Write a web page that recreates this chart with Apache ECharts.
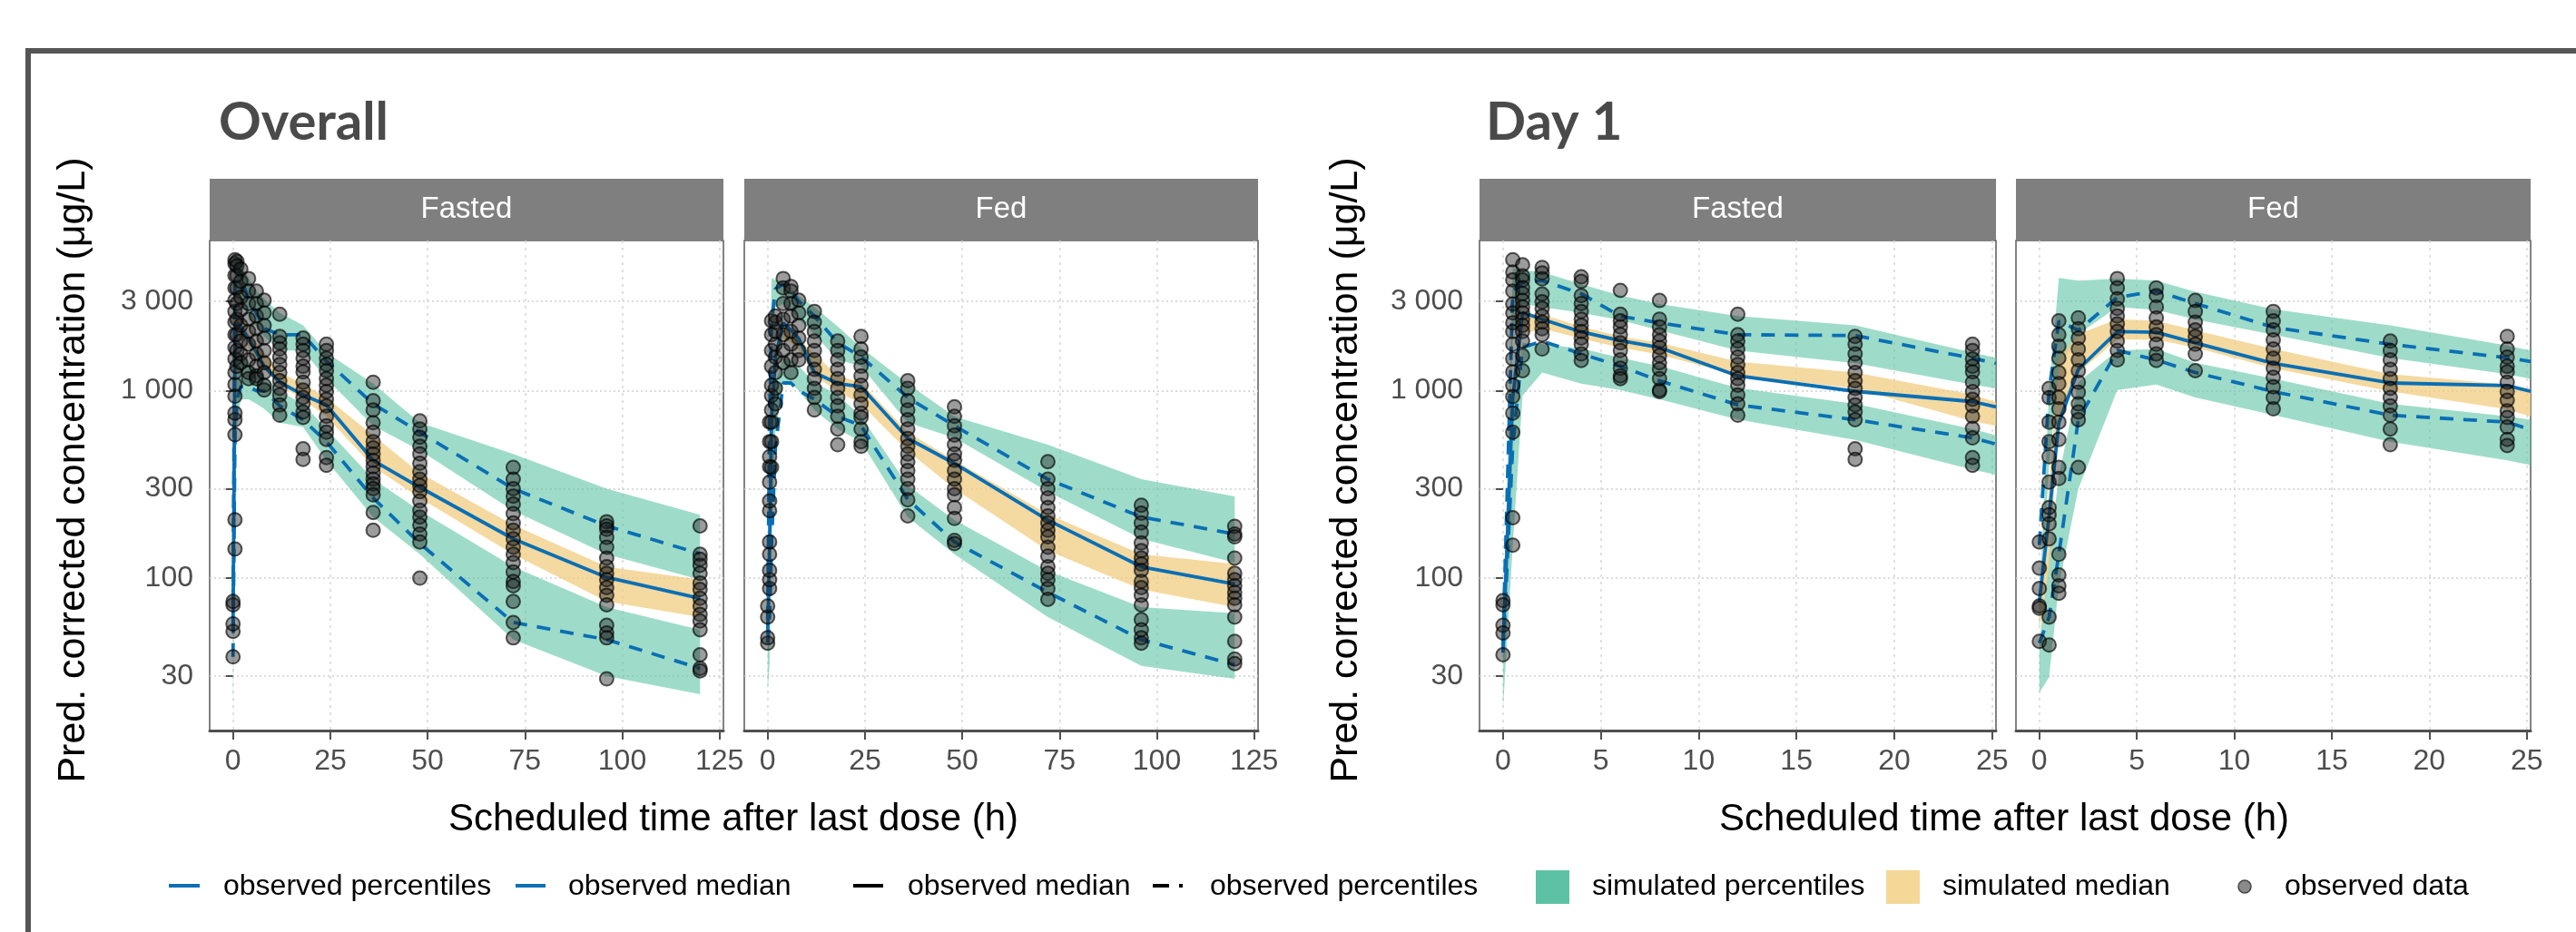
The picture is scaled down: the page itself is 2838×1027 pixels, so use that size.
<!DOCTYPE html>
<html><head><meta charset="utf-8">
<script src="https://cdn.jsdelivr.net/npm/echarts@6/dist/echarts.min.js"></script>
<style>html,body{margin:0;padding:0;background:#fff}#c{width:2838px;height:1027px}</style>
</head><body><div id="c"></div>
<script>
// ---------- tick values ----------
const Y_TICKS = [30, 100, 300, 1000, 3000];
const X_TICKS_ALL = [0, 25, 50, 75, 100, 125];
const X_TICKS_D1 = [0, 5, 10, 15, 20, 25];

// ---------- time bins ----------
const T_ALL = [0, 0.5, 1, 2, 4, 6, 8, 12, 18, 24, 36, 48, 72, 96, 120];
const T_D1 = [0, 0.5, 1, 2, 4, 6, 8, 12, 18, 24, 25.2];

// ---------- Overall / Fasted ----------
const OF_P95 = [74, 4300, 4500, 4000, 3100, 2600, 2150, 1990, 1990, 1440, 851, 600, 300, 190, 135];
const OF_MED = [52, 1700, 2300, 2200, 1900, 1600, 1350, 1110, 950, 840, 425, 305, 162, 101, 78];
const OF_P5 = [38, 580, 900, 1050, 1050, 1000, 1000, 830, 700, 535, 268, 153, 58, 47, 33];
const OF_HI_UP = [78, 5500, 5300, 4700, 4000, 3400, 3100, 2600, 2230, 1600, 1090, 675, 459, 300, 218];
const OF_HI_LO = [58, 2800, 3100, 2900, 2500, 2200, 1950, 1640, 1640, 1160, 650, 480, 229, 134, 98];
const OF_MED_UP = [52, 2100, 2500, 2400, 2050, 1800, 1600, 1250, 1090, 918, 578, 364, 192, 115, 98];
const OF_MED_LO = [42, 1300, 1950, 1950, 1700, 1480, 1300, 1071, 900, 729, 393, 268, 134, 75, 62];
const OF_LO_UP = [38, 900, 1500, 1600, 1400, 1300, 1200, 992, 850, 625, 337, 229, 115, 70, 53];
const OF_LO_LO = [19, 250, 650, 900, 900, 850, 800, 675, 640, 425, 212, 134, 47, 30, 24];
const OF_OBS = [
  [0, [38, 52, 57, 72, 75]],
  [0.5, [143, 205, 582, 700, 760, 935, 1080, 1250, 1480, 1700, 1990, 2320, 2650, 3040, 3540, 4120, 4760, 5000]],
  [1, [4900, 4630, 4120, 3540, 2920, 2410, 1990, 1640, 1350]],
  [2, [4460, 3830, 3150, 2700, 2230, 1840, 1570, 1410]],
  [4, [3970, 3400, 2920, 2410, 2070, 1770, 1460, 1250, 1160]],
  [6, [3400, 2920, 2500, 2140, 1840, 1570, 1350, 1200, 1160]],
  [8, [3040, 2600, 2230, 1910, 1640, 1410, 1250, 1070, 1010]],
  [12, [2560, 1950, 1800, 1670, 1510, 1380, 1250, 1130, 1030, 950, 840, 740]],
  [18, [1910, 1770, 1640, 1490, 1350, 1260, 1110, 1010, 920, 850, 770, 720, 490, 430]],
  [24, [1770, 1640, 1490, 1380, 1280, 1160, 1070, 990, 900, 830, 730, 650, 600, 550, 440, 400]],
  [36, [1110, 885, 790, 675, 600, 535, 496, 460, 425, 393, 364, 337, 318, 300, 278, 224, 180]],
  [48, [690, 625, 565, 505, 460, 410, 370, 337, 312, 289, 258, 230, 212, 192, 172, 156, 100]],
  [72, [390, 337, 300, 274, 248, 221, 197, 180, 162, 146, 134, 121, 108, 96, 91, 75, 58, 48]],
  [96, [200, 190, 182, 165, 146, 128, 115, 106, 98, 89, 81, 72, 56, 51, 48, 29]],
  [120, [190, 134, 126, 117, 106, 94, 87, 78, 71, 64, 59, 53, 39, 33, 32]]
];

// ---------- Overall / Fed ----------
const OD_P95 = [60, 700, 2300, 3500, 3700, 3400, 3000, 2500, 1800, 1520, 918, 650, 337, 212, 172];
const OD_MED = [50, 150, 700, 1500, 2300, 2100, 1900, 1250, 1093, 1050, 557, 409, 204, 115, 93];
const OD_P5 = [45, 62, 150, 500, 1100, 1100, 1000, 900, 729, 650, 263, 156, 84, 47, 34.5];
const OD_HI_UP = [65, 800, 4000, 3900, 3800, 3500, 3200, 2800, 2200, 1700, 1090, 729, 515, 337, 273];
const OD_HI_LO = [55, 200, 2300, 2800, 2900, 2700, 2400, 2000, 1460, 1350, 675, 560, 289, 162, 121];
const OD_MED_UP = [50, 150, 900, 1700, 2200, 2100, 1900, 1575, 1200, 1110, 600, 425, 219, 134, 119];
const OD_MED_LO = [45, 80, 500, 1300, 1900, 1800, 1650, 1200, 992, 851, 476, 300, 140, 87, 70];
const OD_LO_UP = [40, 80, 500, 1100, 1500, 1450, 1350, 1110, 950, 730, 312, 204, 109, 70, 65];
const OD_LO_LO = [25, 35, 150, 600, 1100, 1100, 1000, 790, 625, 535, 212, 134, 62, 34, 29];
const OD_OBS = [
  [0, [45, 48, 62, 71]],
  [0.5, [88, 98, 110, 134, 156, 229, 258, 325, 393, 445, 535, 680]],
  [1, [390, 535, 680, 790, 940, 1070, 1350, 1640, 1990, 2360]],
  [2, [850, 1030, 1250, 1510, 1770, 2070, 2320, 2500]],
  [4, [3970, 3540, 2920, 2410, 1990, 1640, 1410]],
  [6, [3600, 3400, 2920, 2500, 2070, 1770, 1460, 1250]],
  [8, [3040, 2600, 2230, 1910, 1640, 1460]],
  [12, [2650, 2320, 2070, 1840, 1640, 1460, 1300, 1160, 1030, 920, 790]],
  [18, [1840, 1640, 1460, 1300, 1160, 1030, 920, 830, 730, 625, 515]],
  [24, [1950, 1670, 1510, 1350, 1200, 1070, 950, 850, 760, 720, 625, 535, 505]],
  [36, [1130, 1030, 885, 790, 700, 625, 555, 505, 460, 418, 375, 337, 300, 262, 215]],
  [48, [820, 730, 650, 580, 515, 460, 425, 375, 337, 300, 278, 238, 208, 159, 153]],
  [72, [418, 337, 300, 268, 238, 215, 197, 180, 166, 146, 131, 115, 106, 98, 88, 77]],
  [96, [245, 222, 197, 176, 154, 140, 128, 119, 110, 96, 89, 81, 72, 60, 53, 48, 45]],
  [120, [189, 172, 166, 128, 106, 98, 91, 84, 78, 72, 62, 46, 37, 35]]
];

// ---------- Day 1 / Fasted ----------
const DF_P95 = [45, 3400, 3780, 3870, 3290, 2500, 2300, 1990, 1970, 1490, 1400];
const DF_MED = [42, 918, 2610, 2408, 2060, 1850, 1700, 1200, 992, 875, 820];
const DF_P5 = [40, 510, 1700, 1837, 1574, 1350, 1130, 840, 700, 560, 519];
const DF_HI_UP = [50, 4500, 4400, 4300, 3700, 3230, 2900, 2500, 2230, 1600, 1500];
const DF_HI_LO = [44, 2000, 2900, 2800, 2600, 2380, 2100, 1640, 1400, 1080, 1030];
const DF_MED_UP = [43, 1200, 2600, 2550, 2200, 1950, 1800, 1430, 1250, 955, 867];
const DF_MED_LO = [38, 700, 2000, 2150, 1900, 1700, 1560, 1210, 1030, 688, 649];
const DF_LO_UP = [37, 800, 1800, 1770, 1680, 1500, 1350, 1034, 851, 625, 578];
const DF_LO_LO = [20, 150, 940, 1250, 1090, 1010, 900, 702, 546, 379, 357];
const DF_OBS = [
  [0, [76, 72, 56, 51, 39]],
  [0.5, [5000, 4300, 3900, 3400, 2900, 2600, 2300, 2070, 1770, 1480, 1260, 1070, 930, 760, 600, 210, 150]],
  [1, [4700, 4100, 3900, 3550, 3300, 3030, 2800, 2600, 2410, 2230, 2070, 1840, 1540, 1280]],
  [2, [4550, 4250, 3950, 3280, 2980, 2750, 2500, 2320, 2140, 1990, 1670]],
  [4, [4050, 3830, 3220, 2920, 2650, 2410, 2230, 2070, 1910, 1770, 1570, 1450]],
  [6, [3430, 2560, 2360, 2190, 1990, 1800, 1640, 1460, 1320, 1200, 1160]],
  [8, [3030, 2410, 2190, 1990, 1840, 1700, 1540, 1410, 1300, 1160, 1010, 990]],
  [12, [2560, 1990, 1840, 1670, 1510, 1380, 1250, 1160, 1070, 950, 850, 740]],
  [18, [1950, 1770, 1570, 1410, 1250, 1130, 1030, 920, 840, 770, 700, 490, 430]],
  [24, [1770, 1640, 1480, 1350, 1260, 1110, 990, 900, 830, 730, 630, 560, 440, 400]]
];

// ---------- Day 1 / Fed ----------
const DD_P95 = [150, 1000, 2350, 2100, 3150, 3400, 2920, 2180, 1770, 1500, 1430];
const DD_MED = [75, 215, 675, 1300, 2070, 2050, 1800, 1400, 1100, 1065, 992];
const DD_P5 = [45, 62, 134, 700, 1640, 1460, 1250, 990, 740, 680, 620];
const DD_HI_UP = [75, 1000, 4000, 3870, 3970, 3870, 3370, 2720, 2230, 1740, 1640];
const DD_HI_LO = [55, 400, 1300, 2000, 2800, 2700, 2400, 1990, 1494, 1227, 1157];
const DD_MED_UP = [78, 300, 1500, 2000, 2407, 2360, 2100, 1670, 1227, 1080, 1020];
const DD_MED_LO = [53, 110, 730, 1250, 1874, 1874, 1700, 1320, 992, 795, 729];
const DD_LO_UP = [45, 134, 351, 1110, 1640, 1670, 1410, 1160, 850, 730, 700];
const DD_LO_LO = [24.5, 29.6, 91, 300, 1010, 1080, 920, 743, 535, 425, 401];
const DD_OBS = [
  [0, [156, 113, 88, 71, 69, 46]],
  [0.5, [1030, 918, 680, 535, 445, 325, 238, 218, 195, 162, 62, 44]],
  [1, [2360, 1990, 1730, 1490, 1250, 1090, 920, 800, 680, 550, 390, 340, 134, 104, 91, 83]],
  [2, [2450, 2140, 1910, 1670, 1460, 1280, 1110, 980, 850, 770, 700, 390]],
  [4, [3970, 3540, 3090, 2750, 2500, 2270, 2070, 1840, 1640, 1460]],
  [6, [3540, 3220, 2800, 2450, 2190, 1990, 1770, 1570, 1450]],
  [8, [3030, 2650, 2320, 2110, 1950, 1770, 1570, 1280]],
  [12, [2650, 2360, 2110, 1870, 1670, 1490, 1320, 1180, 1050, 920, 800]],
  [18, [1840, 1640, 1460, 1300, 1160, 1030, 920, 830, 740, 625, 515]],
  [24, [1950, 1670, 1510, 1350, 1260, 1110, 990, 890, 780, 720, 640, 550, 510]]
];

// ---------- panels (built from the arrays above) ----------
const PANELS = [
  {T: T_ALL, p95: OF_P95, med: OF_MED, p5: OF_P5, hiUp: OF_HI_UP, hiLo: OF_HI_LO, mdUp: OF_MED_UP, mdLo: OF_MED_LO, loUp: OF_LO_UP, loLo: OF_LO_LO, obs: OF_OBS, xr: [-6, 126], xt: X_TICKS_ALL, showY: true, strip: 'Fasted'},
  {T: T_ALL, p95: OD_P95, med: OD_MED, p5: OD_P5, hiUp: OD_HI_UP, hiLo: OD_HI_LO, mdUp: OD_MED_UP, mdLo: OD_MED_LO, loUp: OD_LO_UP, loLo: OD_LO_LO, obs: OD_OBS, xr: [-6, 126], xt: X_TICKS_ALL, showY: false, strip: 'Fed'},
  {T: T_D1, p95: DF_P95, med: DF_MED, p5: DF_P5, hiUp: DF_HI_UP, hiLo: DF_HI_LO, mdUp: DF_MED_UP, mdLo: DF_MED_LO, loUp: DF_LO_UP, loLo: DF_LO_LO, obs: DF_OBS, xr: [-1.2, 25.2], xt: X_TICKS_D1, showY: true, strip: 'Fasted'},
  {T: T_D1, p95: DD_P95, med: DD_MED, p5: DD_P5, hiUp: DD_HI_UP, hiLo: DD_HI_LO, mdUp: DD_MED_UP, mdLo: DD_MED_LO, loUp: DD_LO_UP, loLo: DD_LO_LO, obs: DD_OBS, xr: [-1.2, 25.2], xt: X_TICKS_D1, showY: false, strip: 'Fed'}
];

const GRIDS = [
  {left: 231, top: 265, width: 566, height: 540},
  {left: 820, top: 265, width: 566, height: 540},
  {left: 1630, top: 265, width: 569, height: 540},
  {left: 2221, top: 265, width: 567, height: 540}
];

const GREEN = 'rgba(94,196,165,0.6)';
const ORANGE = 'rgba(240,204,128,0.75)';
const BLUE = '#0a6fb4';
const FONT = 'Liberation Sans';

function fmt(v) {
  const n = Math.round(v);
  return String(n).replace(/\B(?=(\d{3})+(?!\d))/g, ' ');
}

function band(gi, T, lo, hi, color, z) {
  return {
    type: 'custom', xAxisIndex: gi, yAxisIndex: gi, silent: true, z: z,
    data: T.map((t, i) => [t, lo[i], hi[i]]),
    encode: {x: 0, y: [1, 2]},
    renderItem: function (params, api) {
      if (params.dataIndex !== 0) return null;
      const top = T.map((t, i) => api.coord([t, hi[i]]));
      const bot = T.map((t, i) => api.coord([t, lo[i]])).reverse();
      return {type: 'polygon', shape: {points: top.concat(bot)}, style: {fill: color}};
    }
  };
}
function line(gi, T, v, dashed) {
  return {
    type: 'line', xAxisIndex: gi, yAxisIndex: gi, silent: true, z: 4,
    data: T.map((t, i) => [t, v[i]]), showSymbol: false, symbol: 'none',
    lineStyle: {color: BLUE, width: 3.8, type: dashed ? [15, 11] : 'solid'}
  };
}
function scatter(gi, obs) {
  const d = [];
  obs.forEach(c => c[1].forEach(v => d.push([c[0], v])));
  return {
    type: 'scatter', xAxisIndex: gi, yAxisIndex: gi, silent: true, z: 5,
    data: d, symbolSize: 15,
    itemStyle: {color: 'rgba(30,30,30,0.55)', borderColor: 'rgba(0,0,0,0.8)', borderWidth: 2}
  };
}

const series = [], xAxis = [], yAxis = [], grid = [];
PANELS.forEach((p, gi) => {
  grid.push(Object.assign({show: true, borderColor: '#5a5a5a', borderWidth: 1.5, backgroundColor: 'transparent'}, GRIDS[gi]));
  xAxis.push({
    gridIndex: gi, type: 'value', min: p.xr[0], max: p.xr[1],
    axisLine: {show: true, onZero: false, lineStyle: {color: '#505050', width: 3}},
    axisTick: {show: true, length: 10, customValues: p.xt, lineStyle: {color: '#505050', width: 2}},
    axisLabel: {customValues: p.xt, color: '#4d4d4d', fontSize: 32, fontFamily: FONT, margin: 18},
    splitLine: {show: true, lineStyle: {color: '#d6d6d6', width: 1.5, type: [3, 5]}}
  });
  yAxis.push({
    gridIndex: gi, type: 'log', logBase: 10, min: 15.37, max: 6333,
    axisLine: {show: false},
    axisTick: {show: p.showY, length: 8, customValues: Y_TICKS, lineStyle: {color: '#505050', width: 2}},
    axisLabel: {show: p.showY, customValues: Y_TICKS, formatter: fmt, color: '#4d4d4d', fontSize: 32, fontFamily: FONT, margin: 18},
    splitLine: {show: true, lineStyle: {color: '#d0d0d0', width: 1.5, type: [2, 3]}},
    minorTick: {show: false}, minorSplitLine: {show: false}
  });
  series.push(band(gi, p.T, p.hiLo, p.hiUp, GREEN, 1));
  series.push(band(gi, p.T, p.loLo, p.loUp, GREEN, 1));
  series.push(band(gi, p.T, p.mdLo, p.mdUp, ORANGE, 2));
  series.push(line(gi, p.T, p.p95, true));
  series.push(line(gi, p.T, p.p5, true));
  series.push(line(gi, p.T, p.med, false));
  series.push(scatter(gi, p.obs));
});

// ---------- graphic: frame, titles, strips, axis titles, legend ----------
const graphic = [];
graphic.push({type: 'rect', z: 0, shape: {x: 31, y: 56, width: 2900, height: 1100}, style: {fill: 'none', stroke: '#555555', lineWidth: 6}});
graphic.push({type: 'text', x: 241, y: 135, style: {text: 'Overall', font: 'bold 58px Lato', fill: '#4a4a4a', align: 'left', verticalAlign: 'middle'}});
graphic.push({type: 'text', x: 1637, y: 135, style: {text: 'Day 1', font: 'bold 58px Lato', fill: '#4a4a4a', align: 'left', verticalAlign: 'middle'}});
PANELS.forEach((p, gi) => {
  const g = GRIDS[gi];
  graphic.push({type: 'rect', shape: {x: g.left, y: 197, width: g.width, height: 68}, style: {fill: '#7f7f7f'}});
  graphic.push({type: 'text', x: g.left + g.width / 2, y: 231, style: {text: p.strip, font: '33px "Liberation Sans"', fill: '#ffffff', align: 'center', verticalAlign: 'middle'}});
});
[[808, 81], [2208, 1483]].forEach(a => {
  graphic.push({type: 'text', x: a[0], y: 903, style: {text: 'Scheduled time after last dose (h)', font: '42px "Liberation Sans"', fill: '#000', align: 'center', verticalAlign: 'middle'}});
  graphic.push({type: 'text', x: a[1], y: 518, rotation: Math.PI / 2, style: {text: 'Pred. corrected concentration (\u03bcg/L)', font: '43px "Liberation Sans"', fill: '#000', align: 'center', verticalAlign: 'middle'}});
});
const LY = 977;
const LEG_FONT = '32px "Liberation Sans"';
function legText(x, t) { graphic.push({type: 'text', x: x, y: LY, style: {text: t, font: LEG_FONT, fill: '#000', align: 'left', verticalAlign: 'middle'}}); }
graphic.push({type: 'line', shape: {x1: 186, y1: LY - 1, x2: 220, y2: LY - 1}, style: {stroke: BLUE, lineWidth: 4}});
legText(246, 'observed percentiles');
graphic.push({type: 'line', shape: {x1: 568, y1: LY - 1, x2: 601, y2: LY - 1}, style: {stroke: BLUE, lineWidth: 4}});
legText(626, 'observed median');
graphic.push({type: 'line', shape: {x1: 940, y1: LY - 1, x2: 973, y2: LY - 1}, style: {stroke: '#000', lineWidth: 4}});
legText(1000, 'observed median');
graphic.push({type: 'line', shape: {x1: 1270, y1: LY - 1, x2: 1288, y2: LY - 1}, style: {stroke: '#000', lineWidth: 4}});
graphic.push({type: 'line', shape: {x1: 1299, y1: LY - 1, x2: 1303, y2: LY - 1}, style: {stroke: '#000', lineWidth: 4}});
legText(1333, 'observed percentiles');
graphic.push({type: 'rect', shape: {x: 1692, y: 959, width: 37, height: 37}, style: {fill: '#5dc2a5'}});
legText(1754, 'simulated percentiles');
graphic.push({type: 'rect', shape: {x: 2078, y: 959, width: 37, height: 37}, style: {fill: '#f5d797'}});
legText(2140, 'simulated median');
graphic.push({type: 'circle', shape: {cx: 2473, cy: LY, r: 7}, style: {fill: '#8a8a8a', stroke: '#444', lineWidth: 1.5}});
legText(2517, 'observed data');

const chart = echarts.init(document.getElementById('c'), null, {renderer: 'canvas', width: 2838, height: 1027});
chart.setOption({animation: false, backgroundColor: '#ffffff', grid, xAxis, yAxis, series, graphic});
</script>
</body></html>
